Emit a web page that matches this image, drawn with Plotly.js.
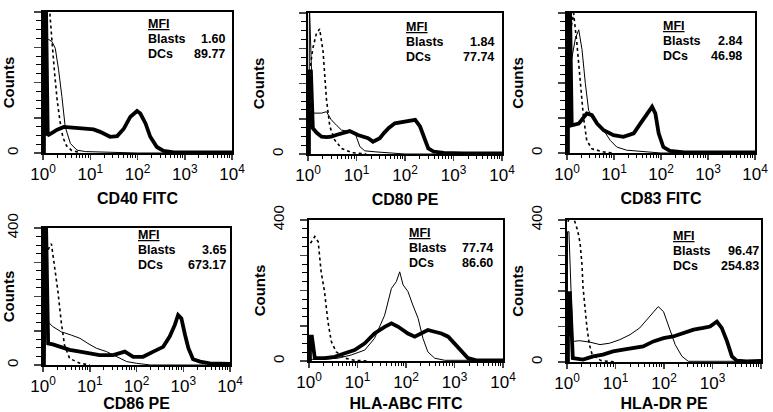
<!DOCTYPE html>
<html><head><meta charset="utf-8">
<script src="https://cdn.plot.ly/plotly-3.0.1.min.js"></script>
<style>html,body{margin:0;padding:0;background:#fff}#chart{width:773px;height:412px}</style>
</head><body><div id="chart"></div>
<script>
// ---------- DATA ----------
const markers = ['CD40 FITC', 'CD80 PE', 'CD83 FITC', 'CD86 PE', 'HLA-ABC FITC', 'HLA-DR PE'];
const blastsMFI = ['1.60', '1.84', '2.84', '3.65', '77.74', '96.47'];
const dcsMFI = ['89.77', '77.74', '46.98', '673.17', '86.60', '254.83'];
const xTickVals = [1, 10, 100, 1000, 10000];
const xTickText = ['10<sup>0</sup>', '10<sup>1</sup>', '10<sup>2</sup>', '10<sup>3</sup>', '10<sup>4</sup>'];
const yTickVals = [0, 100, 200, 300, 400];
const yTickText = ['0', '', '', '', '400'];

// fluorescence positions in decades (log10) and counts
// CD40
const cd40_dc_dec = [0.02,0.02,0.06,0.1,0.2,0.3,0.44,0.6,0.72,0.9,1.07,1.21,1.32,1.42,1.57,1.71,1.85,1.99,2.06,2.17,2.27,2.41,2.55,2.77,3.0,3.5,4.0];
const cd40_dc_cnt = [0,450,450,50,58,66,74,72,69,68,67,60,52,46,48,69,103,119,112,84,46,17,6,2,2,2,2];
const cd40_bl_dec = [0.03,0.04,0.12,0.19,0.26,0.33,0.40,0.47,0.58,0.72,0.9,1.2,1.5,2.0,4.0];
const cd40_bl_cnt = [0,321,322,316,297,236,160,74,27,8,4,3,2,0,0];
const cd40_iso_dec = [0.04,0.08,0.12,0.16,0.2,0.25,0.3,0.36,0.42,0.5,0.6,0.8];
const cd40_iso_cnt = [350,430,440,380,300,220,150,90,45,20,8,0];
// CD80
const cd80_dc_dec = [0.02,0.02,0.06,0.1,0.18,0.28,0.38,0.48,0.58,0.69,0.86,1.03,1.14,1.24,1.34,1.48,1.57,1.66,1.79,2.0,2.21,2.31,2.41,2.48,2.59,2.8,3.2,4.0];
const cd80_dc_cnt = [0,234,234,73,60,49,48,49,54,59,65,54,50,45,35,45,60,73,87,92,97,78,40,16,7,3,2,2];
const cd80_bl_dec = [0.02,0.03,0.1,0.28,0.38,0.48,0.6,0.69,0.83,0.97,1.07,1.17,1.4,1.66,2.0,4.0];
const cd80_bl_cnt = [0,420,116,116,120,97,80,68,64,59,21,9,6,4,0,0];
const cd80_iso_dec = [0.05,0.1,0.17,0.24,0.31,0.38,0.45,0.55,0.69,0.9,1.2];
const cd80_iso_cnt = [250,300,340,355,292,156,78,40,16,4,0];
// CD83
const cd83_dc_dec = [0.02,0.02,0.06,0.1,0.25,0.42,0.53,0.64,0.78,0.99,1.2,1.42,1.56,1.7,1.81,1.88,1.95,2.05,2.19,2.5,3.0,4.0];
const cd83_dc_cnt = [0,450,450,79,84,113,108,84,65,51,46,56,84,113,132,113,56,17,6,2,2,2];
const cd83_bl_dec = [0.03,0.04,0.07,0.18,0.25,0.32,0.39,0.46,0.57,0.78,0.92,1.06,1.27,1.63,2.0,4.0];
const cd83_bl_cnt = [0,247,247,328,352,295,199,122,94,65,36,17,8,3,0,0];
const cd83_iso_dec = [0.05,0.1,0.14,0.21,0.28,0.35,0.42,0.53,0.78,1.0];
const cd83_iso_cnt = [330,371,400,314,199,103,36,12,3,0];
// CD86
const cd86_dc_dec = [0.02,0.02,0.06,0.11,0.21,0.36,0.57,0.79,1.0,1.21,1.5,1.75,1.93,2.14,2.36,2.57,2.71,2.82,2.89,2.96,3.04,3.11,3.21,3.36,3.57,4.0];
const cd86_dc_cnt = [0,450,450,63,60,53,44,39,34,29,29,39,24,24,39,53,83,117,146,136,87,49,17,10,5,3];
const cd86_bl_dec = [0.03,0.07,0.21,0.39,0.61,0.79,0.96,1.14,1.36,1.57,1.79,2.0,2.3,4.0];
const cd86_bl_cnt = [0,131,112,97,87,78,63,49,39,24,10,5,0,0];
const cd86_iso_dec = [0.07,0.12,0.18,0.25,0.32,0.39,0.46,0.57,0.79,1.0];
const cd86_iso_cnt = [320,340,354,291,214,126,58,19,5,0];
// HLA-ABC
const abc_dc_dec = [0.02,0.02,0.06,0.12,0.32,0.53,0.74,0.94,1.15,1.35,1.56,1.7,1.84,2.04,2.18,2.32,2.45,2.59,2.73,2.87,3.0,3.14,3.28,3.45,4.0];
const abc_dc_cnt = [0,69,69,8,8,12,22,31,50,78,97,107,97,78,69,78,88,83,78,69,50,26,8,2,2];
const abc_bl_dec = [0.02,0.3,0.6,0.87,1.15,1.35,1.56,1.7,1.8,1.87,1.94,2.04,2.14,2.25,2.35,2.45,2.59,2.8,4.0];
const abc_bl_cnt = [5,5,8,17,31,64,130,206,225,253,216,197,159,121,64,26,8,2,2];
const abc_iso_dec = [0.03,0.12,0.19,0.25,0.32,0.39,0.46,0.56,0.74,0.94,1.2];
const abc_iso_cnt = [334,353,338,253,197,112,55,26,8,2,0];
// HLA-DR
const dr_dc_dec = [0.02,0.02,0.06,0.12,0.33,0.54,0.74,0.95,1.16,1.37,1.57,1.78,1.99,2.19,2.4,2.61,2.81,2.95,3.09,3.19,3.3,3.4,3.5,3.7,4.0];
const dr_dc_cnt = [0,194,194,11,7,16,21,30,35,39,44,58,67,72,81,91,96,100,114,96,58,16,4,2,3];
const dr_bl_dec = [0.01,0.01,0.04,0.12,0.26,0.47,0.68,0.88,1.09,1.3,1.5,1.71,1.88,1.99,2.09,2.23,2.37,2.5,4.0];
const dr_bl_cnt = [0,367,367,58,60,56,49,53,63,77,96,128,156,142,105,49,16,2,2];
const dr_iso_dec = [0.02,0.08,0.15,0.22,0.27,0.31,0.33,0.37,0.41,0.46,0.52,0.7,1.0];
const dr_iso_cnt = [395,420,400,370,335,273,211,150,99,50,20,4,0];

const panels = [
  {dc:[cd40_dc_dec,cd40_dc_cnt], bl:[cd40_bl_dec,cd40_bl_cnt], iso:[cd40_iso_dec,cd40_iso_cnt]},
  {dc:[cd80_dc_dec,cd80_dc_cnt], bl:[cd80_bl_dec,cd80_bl_cnt], iso:[cd80_iso_dec,cd80_iso_cnt]},
  {dc:[cd83_dc_dec,cd83_dc_cnt], bl:[cd83_bl_dec,cd83_bl_cnt], iso:[cd83_iso_dec,cd83_iso_cnt]},
  {dc:[cd86_dc_dec,cd86_dc_cnt], bl:[cd86_bl_dec,cd86_bl_cnt], iso:[cd86_iso_dec,cd86_iso_cnt]},
  {dc:[abc_dc_dec,abc_dc_cnt], bl:[abc_bl_dec,abc_bl_cnt], iso:[abc_iso_dec,abc_iso_cnt]},
  {dc:[dr_dc_dec,dr_dc_cnt], bl:[dr_bl_dec,dr_bl_cnt], iso:[dr_iso_dec,dr_iso_cnt]}
];

// ---------- LAYOUT ----------
const W = 773, H = 412;
// plot boxes in pixels: [left, right, top, bottom]
const boxes = [[43,232,12,153],[308,502,13,154],[567,755,13,153],[43,230,228,365],[309,503,220,361],[567,761,220,362]];
// annotation block in pixels: [labelLeft, valueRight, rowMFI, rowBlasts, rowDCs]
const annPx = [[147,226,24,39,54],[405,495,27,42,57],[662,743,26,41,56],
               [137,227,235,250,265],[408,494,233,248,263],[672,760,236,251,266]];

const FONT = 'Liberation Sans, Arial, Helvetica, sans-serif';
const minorX = [];
for (let e = 0; e < 4; e++) for (let m = 2; m <= 9; m++) minorX.push(m * Math.pow(10, e));

const traces = [];
const layout = {
  width: W, height: H, margin: {l:0, r:0, t:0, b:0},
  paper_bgcolor: '#fff', plot_bgcolor: '#fff',
  showlegend: false, font: {family: FONT, color: '#000'},
  annotations: []
};
const toX = arr => arr.map(d => Math.pow(10, d));

panels.forEach((p, i) => {
  const n = i === 0 ? '' : String(i + 1);
  const xa = 'x' + n, ya = 'y' + n;
  traces.push({x: toX(p.iso[0]), y: p.iso[1], xaxis: xa, yaxis: ya, mode: 'lines', name: 'Isotype',
               line: {color: '#000', width: 1.6, dash: 'dot'}});
  traces.push({x: toX(p.bl[0]), y: p.bl[1], xaxis: xa, yaxis: ya, mode: 'lines', name: 'Blasts',
               line: {color: '#000', width: 1}});
  traces.push({x: toX(p.dc[0]), y: p.dc[1], xaxis: xa, yaxis: ya, mode: 'lines', name: 'DCs',
               line: {color: '#000', width: 3.8}});
  const b = boxes[i];
  layout['xaxis' + n] = {
    type: 'log', range: [0, 4], domain: [b[0] / W, b[1] / W], anchor: ya,
    showgrid: false, zeroline: false, showline: true, linecolor: '#000', linewidth: 1.8, mirror: true,
    tickmode: 'array', tickvals: xTickVals, ticktext: xTickText, ticks: 'outside', ticklen: 5, tickwidth: 1.5,
    minor: {tickmode: 'array', tickvals: minorX, ticks: 'outside', ticklen: 3, tickwidth: 1, tickcolor: '#000'},
    tickfont: {size: 17, family: FONT, color: '#000'},
    title: {text: '<b>' + markers[i] + '</b>', font: {size: 16, family: FONT, color: '#000'}, standoff: 9},
    fixedrange: true
  };
  layout['yaxis' + n] = {
    range: [0, 400], domain: [1 - b[3] / H, 1 - b[2] / H], anchor: xa,
    showgrid: false, zeroline: false, showline: true, linecolor: '#000', linewidth: 1.8, mirror: true,
    tickmode: 'array', tickvals: yTickVals, ticktext: yTickText, ticks: 'outside', ticklen: 7, tickwidth: 1.5,
    minor: {tickmode: 'linear', tick0: 0, dtick: 25, ticks: 'outside', ticklen: 5, tickwidth: 1, tickcolor: '#000'},
    tickangle: -90, tickfont: {size: 15, family: FONT, color: '#000'}, ticklabelstandoff: 10,
    title: {text: '<b>Counts</b>', font: {size: 15, family: FONT, color: '#000'}, standoff: 1},
    fixedrange: true
  };
  const a = annPx[i];
  const f = {size: 12.5, family: FONT, color: '#000'};
  const X = px => px / W, Y = py => 1 - py / H;
  const base = {xref: 'paper', yref: 'paper', yanchor: 'middle', showarrow: false, font: f, borderpad: 0};
  layout.annotations.push(Object.assign({}, base, {x: X(a[0]), y: Y(a[2]), xanchor: 'left', text: '<b><u>MFI</u></b>'}));
  layout.annotations.push(Object.assign({}, base, {x: X(a[0]), y: Y(a[3]), xanchor: 'left', text: '<b>Blasts</b>'}));
  layout.annotations.push(Object.assign({}, base, {x: X(a[1]), y: Y(a[3]), xanchor: 'right', text: '<b>' + blastsMFI[i] + '</b>'}));
  layout.annotations.push(Object.assign({}, base, {x: X(a[0]), y: Y(a[4]), xanchor: 'left', text: '<b>DCs</b>'}));
  layout.annotations.push(Object.assign({}, base, {x: X(a[1]), y: Y(a[4]), xanchor: 'right', text: '<b>' + dcsMFI[i] + '</b>'}));
});

Plotly.newPlot('chart', traces, layout, {displayModeBar: false, staticPlot: true});
</script>
</body></html>
